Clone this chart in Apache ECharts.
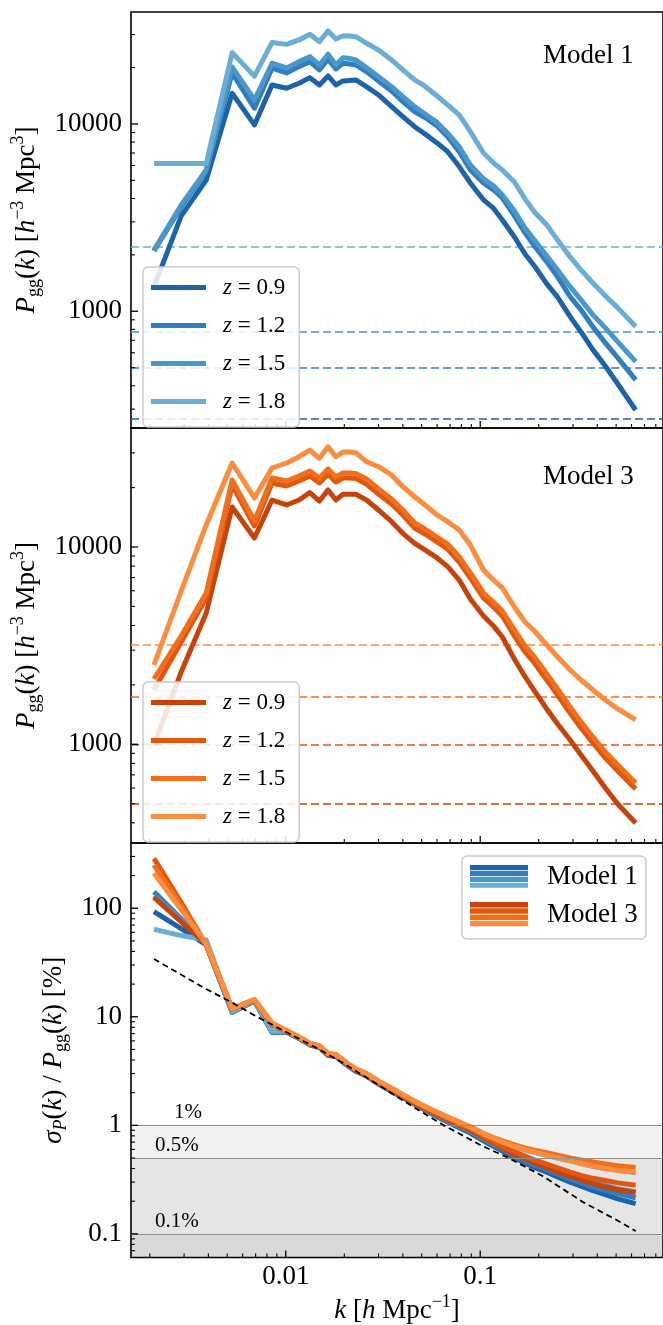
<!DOCTYPE html>
<html><head><meta charset="utf-8">
<script src="https://cdn.jsdelivr.net/npm/echarts@6/dist/echarts.min.js"></script>
<style>html,body{margin:0;padding:0;background:#fff}#c{width:663px;height:1325px}</style>
</head><body><div id="c"></div>
<script>
// ---------- data ----------
const k = [0.0021, 0.0029, 0.0039, 0.0053, 0.0069, 0.0085, 0.0101, 0.0117, 0.0133, 0.0149, 0.0165, 0.0181, 0.0197, 0.0213, 0.0229, 0.026, 0.030, 0.035, 0.040, 0.046, 0.052, 0.060, 0.068, 0.078, 0.089, 0.104, 0.117, 0.13, 0.15, 0.17, 0.19, 0.22, 0.25, 0.29, 0.33, 0.38, 0.44, 0.51, 0.63];
const zLabels = ['0.9', '1.2', '1.5', '1.8'];

// Model 1 P_gg(k)
const P1_z09 = [1350, 3230, 5020, 14580, 9880, 16150, 15510, 16500, 17670, 16150, 18040, 16150, 16970, 17070, 17180, 15820, 14280, 12370, 10940, 9670, 8840, 7920, 7110, 5920, 4840, 3930, 3550, 3070, 2490, 2020, 1745, 1400, 1190, 936, 775, 622, 510, 409, 297];
const P1_z12 = [2100, 3605, 5600, 18720, 12130, 19840, 18720, 20230, 21510, 19430, 22150, 19670, 21090, 20910, 20650, 19030, 16970, 15010, 13160, 11630, 10830, 9760, 8550, 7110, 5680, 4840, 4440, 4030, 3230, 2620, 2230, 1834, 1525, 1197, 1016, 825, 677, 563, 430];
const P1_z15 = [2125, 3694, 5681, 20150, 13430, 21090, 19910, 21510, 22870, 20650, 23560, 20650, 22590, 22370, 21970, 19980, 17880, 15820, 13990, 12370, 11310, 10190, 8920, 7560, 6040, 5090, 4670, 4180, 3430, 2780, 2400, 1974, 1662, 1353, 1149, 956, 815, 686, 538];
const P1_z18 = [6140, 6140, 6140, 24000, 18000, 27200, 26600, 28090, 30130, 27500, 31370, 28430, 29610, 29500, 29250, 26970, 24830, 21970, 19430, 17180, 15900, 14100, 12650, 11170, 9100, 7000, 6200, 5680, 4900, 3980, 3390, 2890, 2400, 1950, 1660, 1415, 1208, 1042, 829];
const shot1 = [267, 499, 780, 2208];

// Model 3 P_gg(k)
const P3_z09 = [992, 2325, 4630, 15950, 11110, 17300, 16330, 17300, 18850, 17100, 19450, 17300, 18500, 18500, 18500, 17300, 15400, 13430, 11730, 10440, 9660, 8800, 7950, 6800, 5450, 4470, 3980, 3500, 2700, 2200, 1863, 1510, 1267, 1051, 883, 732, 600, 498, 399];
const P3_z12 = [1885, 3300, 5514, 20620, 12780, 21100, 20380, 21610, 22900, 21100, 23440, 21350, 22370, 22370, 22250, 20860, 18560, 16510, 14530, 12480, 11640, 10600, 9770, 8395, 6965, 5514, 4965, 4470, 3539, 2937, 2583, 2118, 1778, 1441, 1209, 1015, 852, 732, 594];
const P3_z15 = [2143, 3539, 5847, 21860, 13550, 22370, 21610, 22900, 24280, 22370, 24850, 22630, 23720, 23720, 23580, 22110, 19680, 17510, 15400, 13230, 12340, 11240, 10360, 8899, 7384, 5847, 5263, 4738, 3796, 3150, 2770, 2272, 1907, 1546, 1297, 1089, 914, 786, 637];
const P3_z18 = [2523, 5984, 12930, 26650, 17720, 25140, 26650, 28690, 31010, 28150, 32240, 28690, 30300, 30300, 30060, 27060, 25530, 23170, 20210, 17980, 16330, 14530, 13430, 12200, 10230, 7645, 6803, 6198, 4965, 4168, 3752, 3187, 2770, 2380, 2118, 1885, 1677, 1510, 1328];
const shot3 = [502, 997, 1737, 3213];

// sigma_P / P_gg [%]
const S1_z09 = [93, 65, 46, 11.0, 14.0, 7.2, 7.2, 6.3, 5.5, 5.2, 4.4, 4.3, 3.8, 3.45, 3.15, 2.85, 2.4, 2.05, 1.8, 1.56, 1.38, 1.2, 1.07, 0.95, 0.85, 0.72, 0.64, 0.58, 0.50, 0.45, 0.41, 0.37, 0.335, 0.30, 0.275, 0.25, 0.23, 0.21, 0.19];
const S1_z12 = [142, 80, 46, 11.0, 14.0, 7.2, 7.25, 6.35, 5.55, 5.25, 4.45, 4.35, 3.85, 3.47, 3.17, 2.87, 2.42, 2.07, 1.82, 1.58, 1.4, 1.22, 1.09, 0.97, 0.87, 0.74, 0.66, 0.60, 0.52, 0.47, 0.43, 0.39, 0.355, 0.32, 0.295, 0.27, 0.25, 0.235, 0.215];
const S1_z15 = [130, 78, 47, 11.1, 14.1, 7.3, 7.3, 6.4, 5.6, 5.3, 4.5, 4.4, 3.9, 3.5, 3.2, 2.9, 2.45, 2.1, 1.85, 1.6, 1.42, 1.24, 1.11, 0.99, 0.89, 0.76, 0.68, 0.62, 0.55, 0.50, 0.46, 0.42, 0.385, 0.35, 0.325, 0.30, 0.28, 0.26, 0.245];
const S1_z18 = [64, 56, 51, 11.2, 14.2, 7.4, 7.35, 6.45, 5.65, 5.35, 4.55, 4.45, 3.95, 3.55, 3.25, 2.95, 2.5, 2.15, 1.9, 1.65, 1.47, 1.3, 1.17, 1.05, 0.95, 0.80, 0.74, 0.69, 0.63, 0.59, 0.56, 0.53, 0.50, 0.47, 0.445, 0.42, 0.40, 0.385, 0.365];
const S3_z09 = [126, 75, 47, 11.8, 14.2, 8.5, 7.3, 6.4, 5.6, 5.3, 4.5, 4.4, 3.9, 3.5, 3.2, 2.9, 2.45, 2.1, 1.85, 1.6, 1.42, 1.25, 1.12, 1.0, 0.9, 0.77, 0.69, 0.62, 0.54, 0.49, 0.45, 0.41, 0.37, 0.34, 0.315, 0.29, 0.27, 0.255, 0.24];
const S3_z12 = [288, 113, 46, 11.8, 14.3, 8.6, 7.4, 6.45, 5.65, 5.35, 4.55, 4.45, 3.95, 3.55, 3.25, 2.95, 2.5, 2.15, 1.88, 1.63, 1.45, 1.28, 1.15, 1.03, 0.93, 0.79, 0.71, 0.64, 0.57, 0.52, 0.48, 0.44, 0.405, 0.37, 0.345, 0.325, 0.31, 0.295, 0.28];
const S3_z15 = [250, 105, 46, 11.9, 14.4, 8.7, 7.45, 6.5, 5.7, 5.4, 4.6, 4.5, 4.0, 3.6, 3.3, 3.0, 2.55, 2.2, 1.92, 1.67, 1.49, 1.32, 1.19, 1.07, 0.97, 0.84, 0.77, 0.72, 0.66, 0.62, 0.59, 0.56, 0.53, 0.50, 0.48, 0.46, 0.44, 0.425, 0.41];
const S3_z18 = [210, 97, 47, 11.9, 14.4, 8.7, 7.45, 6.5, 5.7, 5.4, 4.6, 4.5, 4.0, 3.6, 3.3, 3.0, 2.55, 2.2, 1.92, 1.67, 1.49, 1.32, 1.19, 1.07, 0.96, 0.83, 0.76, 0.70, 0.64, 0.60, 0.57, 0.53, 0.50, 0.47, 0.445, 0.42, 0.40, 0.385, 0.37];

// Gaussian (no shot noise) reference, dashed
const kGauss = [0.0021, 0.0039, 0.0053, 0.0069, 0.0101, 0.0149, 0.0197, 0.030, 0.046, 0.065, 0.10, 0.14, 0.21, 0.34, 0.50, 0.63];
const gauss = [34, 18, 13.5, 10.3, 7.2, 5.0, 3.75, 2.35, 1.45, 1.0, 0.66, 0.50, 0.34, 0.195, 0.135, 0.106];

// threshold bands
const bandLevels = [1, 0.5, 0.1];
const bandLabels = ['1%', '0.5%', '0.1%'];

// ticks
const xMajorTicks = [0.01, 0.1];
const xTickLabels = ['0.01', '0.1'];
const xMinorTicks = [0.002, 0.003, 0.004, 0.005, 0.006, 0.007, 0.008, 0.009, 0.02, 0.03, 0.04, 0.05, 0.06, 0.07, 0.08, 0.09, 0.2, 0.3, 0.4, 0.5, 0.6, 0.7, 0.8];
const pMajorTicks = [1000, 10000];
const pTickLabels = ['1000', '10000'];
const pMinorTicks = [300, 400, 500, 600, 700, 800, 900, 2000, 3000, 4000, 5000, 6000, 7000, 8000, 9000, 20000, 30000];
const pMinorTicks3 = [400, 500, 600, 700, 800, 900, 2000, 3000, 4000, 5000, 6000, 7000, 8000, 9000, 20000, 30000, 40000];
const sMajorTicks = [0.1, 1, 10, 100];
const sTickLabels = ['0.1', '1', '10', '100'];
const sMinorTicks = [0.07, 0.08, 0.09, 0.2, 0.3, 0.4, 0.5, 0.6, 0.7, 0.8, 0.9, 2, 3, 4, 5, 6, 7, 8, 9, 20, 30, 40, 50, 60, 70, 80, 90, 200, 300];

// ---------- style ----------
const SERIF = "'Liberation Serif', 'DejaVu Serif', serif";
const blues = ['#1c63aa', '#2f7ebf', '#4a97ca', '#6aaed6'];
const oranges = ['#c7430a', '#e3560e', '#f16f1b', '#fd8c3d'];
const XMIN = 0.0016, XMAX = 0.871;
const YR = [[238, 39600], [316, 40100], [0.0606, 399]];
const GL = 131, GW = 536;
const GRIDS = [{top: 12, height: 416}, {top: 428, height: 415}, {top: 843, height: 415}];

const RICH = {
  n: {fontFamily: SERIF, fontSize: 27, color: '#000', lineHeight: 34},
  it: {fontFamily: SERIF, fontSize: 27, fontStyle: 'italic', color: '#000', lineHeight: 34},
  sub: {fontFamily: SERIF, fontSize: 18, color: '#000', lineHeight: 18, verticalAlign: 'bottom'},
  subit: {fontFamily: SERIF, fontSize: 18, fontStyle: 'italic', color: '#000', lineHeight: 18, verticalAlign: 'bottom'},
  sup: {fontFamily: SERIF, fontSize: 18, color: '#000', lineHeight: 18, verticalAlign: 'top'}
};

function labelFor(ticks, labels) {
  return function (v) {
    for (let i = 0; i < ticks.length; i++) if (Math.abs(v / ticks[i] - 1) < 1e-6) return labels[i];
    return '';
  };
}

const xAxes = [], yAxes = [];
const yMaj = [pMajorTicks, pMajorTicks, sMajorTicks];
const yLab = [pTickLabels, pTickLabels, sTickLabels];
const yMin = [pMinorTicks, pMinorTicks3, sMinorTicks];
const yNames = [
  '{it|P}{sub|gg}{n|(}{it|k}{n|) [}{it|h}{sup|−3}{n| Mpc}{sup|3}{n|]}',
  '{it|P}{sub|gg}{n|(}{it|k}{n|) [}{it|h}{sup|−3}{n| Mpc}{sup|3}{n|]}',
  '{it|σ}{subit|P}{n|(}{it|k}{n|) / }{it|P}{sub|gg}{n|(}{it|k}{n|) [%]}'
];
const yGaps = [84, 84, 52];
for (let g = 0; g < 3; g++) {
  xAxes.push({
    type: 'log', logBase: 10, gridIndex: g, min: XMIN, max: XMAX, position: 'bottom',
    axisLine: {show: false}, splitLine: {show: false}, minorTick: {show: false}, minorSplitLine: {show: false},
    axisTick: {show: false},
    axisLabel: {show: g === 2, customValues: xMajorTicks, formatter: labelFor(xMajorTicks, xTickLabels),
      fontFamily: SERIF, fontSize: 27, color: '#000', margin: 6},
    name: g === 2 ? '{it|k}{n| [}{it|h}{n| Mpc}{sup|−1}{n|]}' : '',
    nameLocation: 'middle', nameGap: 36, nameTextStyle: {rich: RICH}
  });
  yAxes.push({
    type: 'log', logBase: 10, gridIndex: g, min: YR[g][0], max: YR[g][1], position: 'left',
    axisLine: {show: false}, splitLine: {show: false}, minorTick: {show: false}, minorSplitLine: {show: false},
    axisTick: {show: false},
    axisLabel: {show: true, customValues: yMaj[g], formatter: labelFor(yMaj[g], yLab[g]),
      fontFamily: SERIF, fontSize: 27, color: '#000', margin: 9},
    name: yNames[g], nameLocation: 'middle', nameRotate: 90, nameGap: yGaps[g],
    nameTextStyle: {rich: RICH}
  });
}

function pairs(xs, ys) { return xs.map(function (x, i) { return [x, ys[i]]; }); }

const series = [];
const P1 = [P1_z09, P1_z12, P1_z15, P1_z18];
const P3 = [P3_z09, P3_z12, P3_z15, P3_z18];
const S1 = [S1_z09, S1_z12, S1_z15, S1_z18];
const S3 = [S3_z09, S3_z12, S3_z15, S3_z18];

function lineSeries(name, g, ys, color, shot) {
  const s = {
    name: name, type: 'line', xAxisIndex: g, yAxisIndex: g,
    data: pairs(k, ys), symbol: 'none', showSymbol: false, clip: true,
    lineStyle: {width: 5, color: color, join: 'round', cap: 'butt'},
    itemStyle: {color: color}, z: 3
  };
  if (shot !== undefined) {
    s.markLine = {silent: true, symbol: ['none', 'none'], label: {show: false},
      lineStyle: {type: [8, 4], width: 1.6, color: color}, data: [{yAxis: shot}], z: 2};
  }
  return s;
}
for (let i = 0; i < 4; i++) series.push(lineSeries('A|' + zLabels[i], 0, P1[i], blues[i], shot1[i]));
for (let i = 0; i < 4; i++) series.push(lineSeries('B|' + zLabels[i], 1, P3[i], oranges[i], shot3[i]));
for (let i = 0; i < 4; i++) series.push(lineSeries('C|' + zLabels[i], 2, S1[i], blues[i]));
for (let i = 0; i < 4; i++) series.push(lineSeries('D|' + zLabels[i], 2, S3[i], oranges[i]));

// dashed gaussian line + bands
series.push({
  name: 'gauss', type: 'line', xAxisIndex: 2, yAxisIndex: 2,
  data: pairs(kGauss, gauss), symbol: 'none', showSymbol: false, smooth: false,
  lineStyle: {width: 1.8, color: '#000', type: [6, 4]}, z: 10,
  markArea: {silent: true, itemStyle: {color: 'rgba(0,0,0,0.052)'},
    data: bandLevels.map(function (v) { return [{yAxis: YR[2][0]}, {yAxis: v}]; })},
  markLine: {silent: true, symbol: ['none', 'none'],
    lineStyle: {type: 'solid', width: 1.2, color: '#8f8f8f'},
    label: {show: true, position: 'insideStartTop', fontFamily: SERIF, fontSize: 21, color: '#000'},
    data: bandLevels.map(function (v, i) {
      return {yAxis: v, label: {formatter: bandLabels[i], distance: [i === 0 ? 43 : 24, 2]}};
    })}
});

// tick marks (inward), placed through each grid's own log scales
for (let g = 0; g < 3; g++) {
  const data = [];
  xMajorTicks.forEach(function (v) { data.push([v, YR[g][0], 0, 7]); });
  xMinorTicks.forEach(function (v) { data.push([v, YR[g][0], 0, 4]); });
  yMaj[g].forEach(function (v) { data.push([XMIN, v, 1, 7]); });
  yMin[g].forEach(function (v) { data.push([XMIN, v, 1, 4]); });
  series.push({
    type: 'custom', xAxisIndex: g, yAxisIndex: g, silent: true, clip: false, z: 12,
    data: data,
    renderItem: function (params, api) {
      const p = api.coord([api.value(0), api.value(1)]);
      const isY = api.value(2) === 1;
      const len = api.value(3);
      return {type: 'line',
        shape: isY ? {x1: p[0], y1: p[1], x2: p[0] + len, y2: p[1]} : {x1: p[0], y1: p[1], x2: p[0], y2: p[1] - len},
        style: {stroke: '#000', lineWidth: len > 5 ? 1.3 : 1.1}};
    }
  });
}

function legendCfg(names, top) {
  return {
    data: names, orient: 'vertical', left: 143, top: top,
    icon: 'rect', itemWidth: 55, itemHeight: 5, itemGap: 15,
    padding: [9, 14, 14, 8],
    backgroundColor: 'rgba(255,255,255,0.85)', borderColor: '#cccccc', borderWidth: 1.5, borderRadius: 5,
    selectedMode: false,
    formatter: function (name) { return '{i|z}{n| = ' + name.split('|')[1] + '}'; },
    textStyle: {fontFamily: SERIF, fontSize: 23, color: '#000', lineHeight: 20,
      rich: {i: {fontFamily: SERIF, fontSize: 23, fontStyle: 'italic', lineHeight: 20, padding: [0, 0, 0, 12]},
             n: {fontFamily: SERIF, fontSize: 23, lineHeight: 20}}},
    z: 20
  };
}

// bottom legend (stacked-colour patches)
const graphics = [];
graphics.push({type: 'rect', shape: {x: 462, y: 856, width: 184, height: 83, r: 5},
  style: {fill: 'rgba(255,255,255,0.85)', stroke: '#cccccc', lineWidth: 1.5}, z: 100});
function patch(y0, h, cols) {
  const step = h / cols.length;
  cols.forEach(function (c, i) {
    graphics.push({type: 'rect', shape: {x: 470, y: y0 + i * step, width: 58, height: step - 0.7},
      style: {fill: c}, z: 101});
  });
}
patch(865, 23.5, blues);
patch(902, 25, oranges);
graphics.push({type: 'text', x: 547, y: 877, style: {text: 'Model 1', font: '27px ' + SERIF, fill: '#000', textVerticalAlign: 'middle'}, z: 101});
graphics.push({type: 'text', x: 547, y: 915, style: {text: 'Model 3', font: '27px ' + SERIF, fill: '#000', textVerticalAlign: 'middle'}, z: 101});

const option = {
  animation: false,
  backgroundColor: '#fff',
  grid: GRIDS.map(function (g) {
    return {left: GL, width: GW, top: g.top, height: g.height, show: true,
      borderColor: '#000', borderWidth: 1.6, backgroundColor: 'transparent', containLabel: false};
  }),
  title: [
    {text: 'Model 1', left: 543, top: 42, padding: 0, textStyle: {fontFamily: SERIF, fontSize: 27, fontWeight: 'normal', color: '#000'}},
    {text: 'Model 3', left: 543, top: 463, padding: 0, textStyle: {fontFamily: SERIF, fontSize: 27, fontWeight: 'normal', color: '#000'}}
  ],
  legend: [
    legendCfg(zLabels.map(function (z) { return 'A|' + z; }), 267),
    legendCfg(zLabels.map(function (z) { return 'B|' + z; }), 682)
  ],
  xAxis: xAxes,
  yAxis: yAxes,
  series: series,
  graphic: graphics
};

const chart = echarts.init(document.getElementById('c'));
chart.setOption(option);
</script>
</body></html>
